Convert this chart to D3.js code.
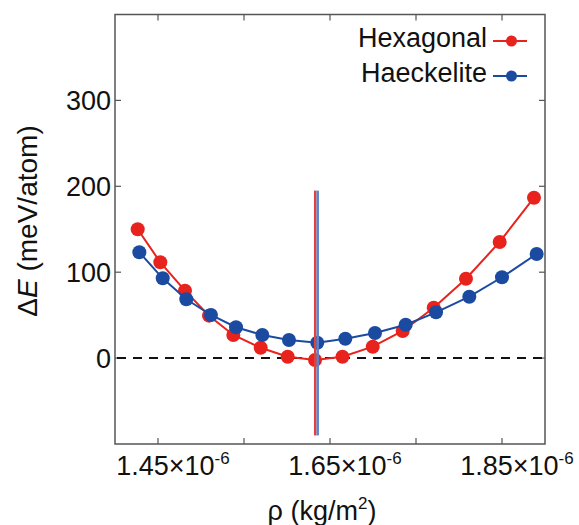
<!DOCTYPE html>
<html>
<head>
<meta charset="utf-8">
<script src="https://d3js.org/d3.v7.min.js"></script>
<style>
  body { margin: 0; background: #fff; }
  svg { display: block; font-family: "Liberation Sans", Arial, sans-serif; }
</style>
</head>
<body>
<svg id="chart" width="579" height="525"></svg>
<script>
// densities in units of 1e-6 kg/m^2, energies in meV/atom
const hexRho = [1.4264, 1.4527, 1.4814, 1.5093, 1.5376, 1.5694, 1.6008, 1.6326, 1.6645, 1.6997, 1.7345, 1.7706, 1.8081, 1.8473, 1.8872];
const hexE   = [150, 111.5, 78.5, 49.4, 26.9, 12.1, 1.6, -2.2, 1.6, 13.3, 31.6, 58.7, 92.4, 135.2, 186.7];
const haeRho = [1.4283, 1.4555, 1.4829, 1.5116, 1.5407, 1.5713, 1.6023, 1.6352, 1.6678, 1.7023, 1.7380, 1.7733, 1.8120, 1.8500, 1.8903];
const haeE   = [123.2, 92.9, 68.5, 50.2, 35.9, 26.9, 21.1, 17.9, 22.6, 29.2, 38.9, 53.3, 71.5, 94.1, 121.2];
const eqRho = [1.6328, 1.6357];            // equilibrium markers: hexagonal, haeckelite
const eqRange = [-90, 195];
const xTicks = [1.45, 1.55, 1.65, 1.75, 1.85];
const xLabels = [1.45, 1.65, 1.85];
const yTicks = [0, 100, 200, 300];

const RED = "#e8231d", BLUE = "#1b4ba1";

const svg = d3.select("#chart");
const mLeft = 115, mRight = 545, mTop = 14.5, mBottom = 444;

const x = d3.scaleLinear().domain([1.40, 1.90]).range([mLeft, mRight]);
const y = d3.scaleLinear().domain([-100, 400]).range([mBottom, mTop]);

// frame
svg.append("rect")
    .attr("x", mLeft).attr("y", mTop)
    .attr("width", mRight - mLeft).attr("height", mBottom - mTop)
    .attr("fill", "none").attr("stroke", "#555").attr("stroke-width", 1.5);

// inward ticks on all four sides
const tickLen = 6;
const tg = svg.append("g").attr("stroke", "#555").attr("stroke-width", 1.2);
xTicks.forEach(t => {
    tg.append("line").attr("x1", x(t)).attr("x2", x(t)).attr("y1", mBottom).attr("y2", mBottom - tickLen);
    tg.append("line").attr("x1", x(t)).attr("x2", x(t)).attr("y1", mTop).attr("y2", mTop + tickLen);
});
yTicks.forEach(t => {
    tg.append("line").attr("x1", mLeft).attr("x2", mLeft + tickLen).attr("y1", y(t)).attr("y2", y(t));
    tg.append("line").attr("x1", mRight).attr("x2", mRight - tickLen).attr("y1", y(t)).attr("y2", y(t));
});

// tick labels
yTicks.forEach(t => {
    svg.append("text")
        .attr("x", 111).attr("y", y(t) + 9.5)
        .attr("text-anchor", "end").attr("font-size", 27).attr("fill", "#111")
        .text(t);
});
xLabels.forEach(t => {
    const txt = svg.append("text")
        .attr("x", x(t) + 15).attr("y", 475)
        .attr("text-anchor", "middle").attr("font-size", 27).attr("fill", "#111");
    txt.append("tspan").text(t.toFixed(2) + "×10");
    txt.append("tspan").attr("font-size", 17).attr("dy", -11).text("-6");
});

// axis titles
const xt = svg.append("text")
    .attr("x", 322).attr("y", 520)
    .attr("text-anchor", "middle").attr("font-size", 27).attr("fill", "#111");
xt.append("tspan").text("ρ (kg/m");
xt.append("tspan").attr("font-size", 17).attr("dy", -11).text("2");
xt.append("tspan").attr("dy", 11).text(")");

const yt = svg.append("text")
    .attr("transform", "translate(37,221) rotate(-90)")
    .attr("text-anchor", "middle").attr("font-size", 28).attr("fill", "#111");
yt.append("tspan").text("Δ");
yt.append("tspan").attr("font-style", "italic").text("E");
yt.append("tspan").text(" (meV/atom)");

// zero reference
svg.append("line")
    .attr("x1", mLeft + 2).attr("x2", mRight)
    .attr("y1", y(0)).attr("y2", y(0))
    .attr("stroke", "#111").attr("stroke-width", 2)
    .attr("stroke-dasharray", "9,7");

const line = d3.line().x(d => x(d[0])).y(d => y(d[1]));

function drawSeries(rho, e, color) {
    const pts = rho.map((r, i) => [r, e[i]]);
    svg.append("path")
        .attr("d", line(pts))
        .attr("fill", "none").attr("stroke", color).attr("stroke-width", 2);
    svg.append("g").selectAll("circle")
        .data(pts)
        .join("circle")
        .attr("cx", d => x(d[0])).attr("cy", d => y(d[1]))
        .attr("r", 7).attr("fill", color);
}
drawSeries(hexRho, hexE, RED);
drawSeries(haeRho, haeE, BLUE);

// equilibrium lines
const eqColors = ["#e2423c", "#5a84cc"];
eqRho.forEach((r, i) => {
    svg.append("line")
        .attr("x1", x(r)).attr("x2", x(r))
        .attr("y1", y(eqRange[0])).attr("y2", y(eqRange[1]))
        .attr("stroke", eqColors[i]).attr("stroke-width", 2.5);
});

// legend
const legend = [["Hexagonal", RED, 41], ["Haeckelite", BLUE, 76]];
legend.forEach(([name, color, ly]) => {
    svg.append("text")
        .attr("x", 487).attr("y", ly + 5.5)
        .attr("text-anchor", "end").attr("font-size", 27).attr("fill", "#111")
        .text(name);
    svg.append("line")
        .attr("x1", 493).attr("x2", 527).attr("y1", ly).attr("y2", ly)
        .attr("stroke", color).attr("stroke-width", 2);
    svg.append("circle")
        .attr("cx", 511.5).attr("cy", ly).attr("r", 5.5).attr("fill", color);
});
</script>
</body>
</html>
